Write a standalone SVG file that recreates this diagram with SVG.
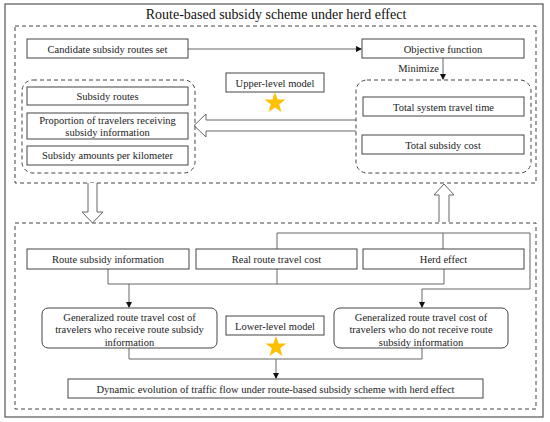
<svg xmlns="http://www.w3.org/2000/svg" width="550" height="422" viewBox="0 0 550 422">
<style>
.t{font-family:"Liberation Serif","Times New Roman",serif;font-size:10.5px;fill:#222;text-anchor:middle}
.title{font-family:"Liberation Serif","Times New Roman",serif;font-size:14px;fill:#111;text-anchor:middle}
.box{fill:#fff;stroke:#444;stroke-width:1}
.dash{fill:none;stroke:#444;stroke-width:1;stroke-dasharray:4,3}
.ln{fill:none;stroke:#666;stroke-width:1}
.hollow{fill:#fff;stroke:#666;stroke-width:1}
.star{fill:#FFC000}
</style>
<defs>
<marker id="ah" markerWidth="6" markerHeight="6" refX="5" refY="3" orient="auto" markerUnits="userSpaceOnUse">
<path d="M0,0 L6,3 L0,6 Z" fill="#111"/>
</marker>
<path id="starShape" d="M0,-11 L2.59,-3.56 L10.46,-3.4 L4.18,1.36 L6.47,8.9 L0,4.4 L-6.47,8.9 L-4.18,1.36 L-10.46,-3.4 L-2.59,-3.56 Z"/>
</defs>
<rect x="5" y="4" width="538" height="413" fill="#fff" stroke="#555" stroke-width="1.2"/>
<text class="title" x="276" y="19">Route-based subsidy scheme under herd effect</text>
<g id="upper-frame"><rect class="dash" x="15" y="26" width="521" height="157"/></g>
<g id="lower-frame"><rect class="dash" x="15" y="223" width="521" height="186"/></g>
<g id="connectors">
<path class="ln" d="M188,49 H361" marker-end="url(#ah)"/>
<path class="ln" d="M443,58 V79" marker-end="url(#ah)"/>
<path class="ln" d="M277,249 V233 H530 V289 H422 V307" marker-end="url(#ah)"/>
<path class="ln" d="M443,233 V249"/>
<path class="ln" d="M108,269 V284 H444 V269 M277,269 V284"/>
<path class="ln" d="M129,284 V307" marker-end="url(#ah)"/>
<path class="ln" d="M129,348 V359 H422 V348"/>
<path class="ln" d="M276,359 V378" marker-end="url(#ah)"/>
<path class="hollow" d="M356,120 H206 V114 L194,125.5 L206,137 V131 H356"/>
<path class="hollow" d="M88,183 V212 H82 L92.5,223 L103,212 H97 V183"/>
<path class="hollow" d="M439,222 V195 H434 L444,184 L454,195 H449 V222"/>
</g>
<g id="candidate"><rect class="box" x="27" y="39" width="161" height="19"/><text class="t" x="107.5" y="52.5">Candidate subsidy routes set</text></g>
<g id="objective"><rect class="box" x="362" y="39" width="162" height="19"/><text class="t" x="443" y="52.5">Objective function</text></g>
<g id="minimize-label"><text class="t" x="439" y="72" style="text-anchor:end">Minimize</text></g>
<g id="objectives-group"><rect class="dash" x="356" y="80" width="175" height="93" rx="11"/></g>
<g id="total-time"><rect class="box" x="363" y="97" width="161" height="19"/><text class="t" x="443.5" y="110.5">Total system travel time</text></g>
<g id="total-cost"><rect class="box" x="362" y="135" width="162" height="19"/><text class="t" x="443" y="148.5">Total subsidy cost</text></g>
<g id="upper-level"><rect class="box" x="226" y="73" width="98" height="19"/><text class="t" x="275" y="86.5">Upper-level model</text><use href="#starShape" class="star" transform="translate(275,103)"/></g>
<g id="decision-group"><rect class="dash" x="22" y="80" width="173" height="93" rx="11"/></g>
<g id="subsidy-routes"><rect class="box" x="27" y="87" width="161" height="18"/><text class="t" x="107.5" y="99.5">Subsidy routes</text></g>
<g id="proportion"><rect class="box" x="27" y="113" width="161" height="26"/><text class="t" x="107.5" y="123.5">Proportion of travelers receiving</text><text class="t" x="107.5" y="136">subsidy information</text></g>
<g id="amounts"><rect class="box" x="27" y="146" width="161" height="19"/><text class="t" x="107.5" y="159">Subsidy amounts per kilometer</text></g>
<g id="route-info"><rect class="box" x="27" y="249" width="162" height="20"/><text class="t" x="108" y="262.5">Route subsidy information</text></g>
<g id="real-cost"><rect class="box" x="196" y="249" width="161" height="20"/><text class="t" x="276.5" y="262.5">Real route travel cost</text></g>
<g id="herd"><rect class="box" x="363" y="249" width="161" height="20"/><text class="t" x="443.5" y="262.5">Herd effect</text></g>
<g id="gen-receive"><rect class="box" x="42" y="308" width="175" height="40" rx="6"/><text class="t" x="129.5" y="320.5">Generalized route travel cost of</text><text class="t" x="129.5" y="333">travelers who receive route subsidy</text><text class="t" x="129.5" y="345.5">information</text></g>
<g id="gen-not-receive"><rect class="box" x="334" y="308" width="174" height="40" rx="6"/><text class="t" x="421" y="320.5">Generalized route travel cost of</text><text class="t" x="421" y="333">travelers who do not receive route</text><text class="t" x="421" y="345.5">subsidy information</text></g>
<g id="lower-level"><rect class="box" x="226" y="316" width="98" height="19"/><text class="t" x="275" y="329.5">Lower-level model</text><use href="#starShape" class="star" transform="translate(276,347)"/></g>
<g id="dynamic"><rect class="box" x="68" y="379" width="415" height="19"/><text class="t" x="275.5" y="392.5">Dynamic evolution of traffic flow under route-based subsidy scheme with herd effect</text></g>
</svg>
